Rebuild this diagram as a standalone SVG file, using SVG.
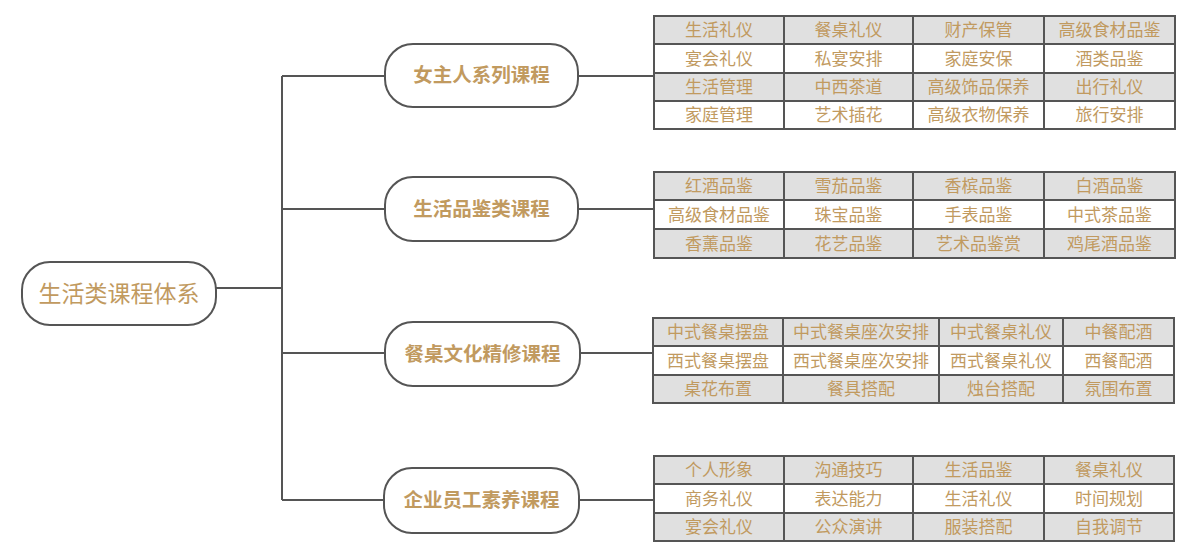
<svg xmlns="http://www.w3.org/2000/svg" width="1191" height="550" viewBox="0 0 1191 550">
<style>
.node{fill:#fff;stroke:#555;stroke-width:2}
.t{font-family:"Noto Sans CJK SC",sans-serif;fill:#c19a5f;text-anchor:middle}
.nt{font-size:19.5px;font-weight:bold}
.rt{font-size:23px}
.ct{font-size:17px}
.g{fill:#e0e0e0}
.w{fill:#fff}
.grid{fill:none;stroke:#555;stroke-width:2}
.conn{fill:none;stroke:#555;stroke-width:2}
</style>
<rect width="1191" height="550" fill="#fff"/>
<g id="connectors">
<path class="conn" d="M216 288H282M282 76V500M282 76H385M282 209H385M282 353H385M282 500H385"/>
<path class="conn" d="M578 76H654M578 209H654M580 353H654M579 500H654"/>
</g>
<g id="root">
<rect class="node" x="22" y="262" width="194" height="63" rx="28"/>
<text class="t rt" x="119" y="302">生活类课程体系</text>
</g>
<g id="n1">
<rect class="node" x="385" y="44" width="193" height="63" rx="28"/>
<text class="t nt" x="481.5" y="82">女主人系列课程</text>
</g>
<g id="n2">
<rect class="node" x="385" y="177" width="193" height="64" rx="28"/>
<text class="t nt" x="481.5" y="216">生活品鉴类课程</text>
</g>
<g id="n3">
<rect class="node" x="385" y="322" width="195" height="64" rx="28"/>
<text class="t nt" x="482.5" y="361">餐桌文化精修课程</text>
</g>
<g id="n4">
<rect class="node" x="384" y="468" width="195" height="65" rx="28"/>
<text class="t nt" x="481.5" y="507">企业员工素养课程</text>
</g>
<g id="table1">
<rect class="g" x="654" y="16" width="521" height="28"/>
<rect class="w" x="654" y="44" width="521" height="29"/>
<rect class="g" x="654" y="73" width="521" height="28"/>
<rect class="w" x="654" y="101" width="521" height="28"/>
<path class="grid" d="M654 16H1175V129H654ZM654 44H1175M654 73H1175M654 101H1175M784 16V129M913 16V129M1044 16V129"/>
<g class="t ct">
<text x="719" y="36">生活礼仪</text><text x="848.5" y="36">餐桌礼仪</text><text x="978.5" y="36">财产保管</text><text x="1109.5" y="36">高级食材品鉴</text>
<text x="719" y="64.5">宴会礼仪</text><text x="848.5" y="64.5">私宴安排</text><text x="978.5" y="64.5">家庭安保</text><text x="1109.5" y="64.5">酒类品鉴</text>
<text x="719" y="93">生活管理</text><text x="848.5" y="93">中西茶道</text><text x="978.5" y="93">高级饰品保养</text><text x="1109.5" y="93">出行礼仪</text>
<text x="719" y="121">家庭管理</text><text x="848.5" y="121">艺术插花</text><text x="978.5" y="121">高级衣物保养</text><text x="1109.5" y="121">旅行安排</text>
</g>
</g>
<g id="table2">
<rect class="g" x="654" y="172" width="521" height="28"/>
<rect class="w" x="654" y="200" width="521" height="29"/>
<rect class="g" x="654" y="229" width="521" height="29"/>
<path class="grid" d="M654 172H1175V258H654ZM654 200H1175M654 229H1175M784 172V258M913 172V258M1044 172V258"/>
<g class="t ct">
<text x="719" y="192">红酒品鉴</text><text x="848.5" y="192">雪茄品鉴</text><text x="978.5" y="192">香槟品鉴</text><text x="1109.5" y="192">白酒品鉴</text>
<text x="719" y="220.5">高级食材品鉴</text><text x="848.5" y="220.5">珠宝品鉴</text><text x="978.5" y="220.5">手表品鉴</text><text x="1109.5" y="220.5">中式茶品鉴</text>
<text x="719" y="249.5">香薰品鉴</text><text x="848.5" y="249.5">花艺品鉴</text><text x="978.5" y="249.5">艺术品鉴赏</text><text x="1109.5" y="249.5">鸡尾酒品鉴</text>
</g>
</g>
<g id="table3">
<rect class="g" x="653" y="318" width="521" height="28"/>
<rect class="w" x="653" y="346" width="521" height="29"/>
<rect class="g" x="653" y="375" width="521" height="28"/>
<path class="grid" d="M653 318H1174V403H653ZM653 346H1174M653 375H1174M783 318V403M939 318V403M1063 318V403"/>
<g class="t ct">
<text x="718" y="338">中式餐桌摆盘</text><text x="861" y="338">中式餐桌座次安排</text><text x="1001" y="338">中式餐桌礼仪</text><text x="1118.5" y="338">中餐配酒</text>
<text x="718" y="366.5">西式餐桌摆盘</text><text x="861" y="366.5">西式餐桌座次安排</text><text x="1001" y="366.5">西式餐桌礼仪</text><text x="1118.5" y="366.5">西餐配酒</text>
<text x="718" y="395">桌花布置</text><text x="861" y="395">餐具搭配</text><text x="1001" y="395">烛台搭配</text><text x="1118.5" y="395">氛围布置</text>
</g>
</g>
<g id="table4">
<rect class="g" x="654" y="456" width="520" height="28"/>
<rect class="w" x="654" y="484" width="520" height="29"/>
<rect class="g" x="654" y="513" width="520" height="28"/>
<path class="grid" d="M654 456H1174V541H654ZM654 484H1174M654 513H1174M784 456V541M913 456V541M1044 456V541"/>
<g class="t ct">
<text x="719" y="476">个人形象</text><text x="848.5" y="476">沟通技巧</text><text x="978.5" y="476">生活品鉴</text><text x="1109" y="476">餐桌礼仪</text>
<text x="719" y="504.5">商务礼仪</text><text x="848.5" y="504.5">表达能力</text><text x="978.5" y="504.5">生活礼仪</text><text x="1109" y="504.5">时间规划</text>
<text x="719" y="533">宴会礼仪</text><text x="848.5" y="533">公众演讲</text><text x="978.5" y="533">服装搭配</text><text x="1109" y="533">自我调节</text>
</g>
</g>
</svg>
